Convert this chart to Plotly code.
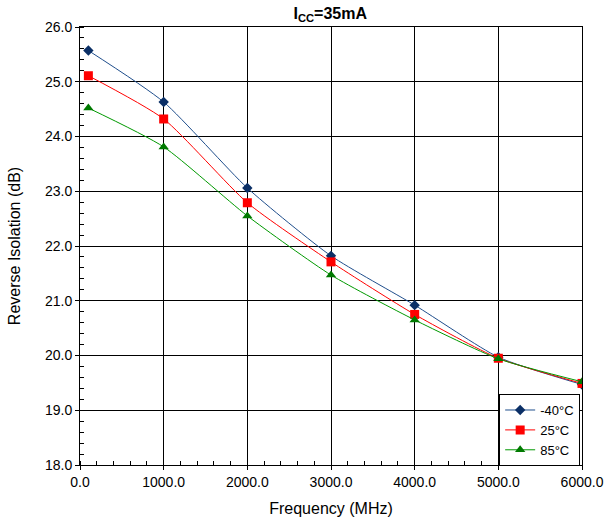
import plotly.graph_objects as go

freq = [100, 1000, 2000, 3000, 4000, 5000, 6000]
iso_m40 = [25.57, 24.63, 23.06, 21.82, 20.92, 19.97, 19.47]
iso_25 = [25.11, 24.32, 22.79, 21.71, 20.75, 19.95, 19.49]
iso_85 = [24.52, 23.81, 22.55, 21.47, 20.65, 19.94, 19.52]

series = [
    ("-40°C", iso_m40, "#1F4E8C", "#0B2F66", "diamond", 8),
    ("25°C", iso_25, "#FF0000", "#FF0000", "square", 9),
    ("85°C", iso_85, "#009900", "#007A00", "triangle-up", 9),
]

fig = go.Figure()
for name, vals, lc, mc, sym, sz in series:
    fig.add_trace(go.Scatter(
        x=freq, y=vals, name=name, mode="lines+markers",
        line=dict(color=lc, width=1, shape="spline", smoothing=0.6),
        marker=dict(symbol=sym, size=sz, color=mc),
    ))

font = "Liberation Sans, Arial, sans-serif"
axis_common = dict(
    showline=True, linecolor="black", linewidth=1, mirror=True,
    gridcolor="black", gridwidth=1, zeroline=False, automargin=False,
    ticks="outside", ticklen=4, tickcolor="black",
    tickformat=".1f", tickfont=dict(family=font, size=14, color="black"),
)

fig.update_layout(
    width=606, height=524,
    margin=dict(l=80, r=24, t=27, b=59, autoexpand=False),
    paper_bgcolor="white", plot_bgcolor="white",
    title=dict(text="<b>I<sub>CC</sub>=35mA</b>", x=0.545, xanchor="center",
               y=0.975, yanchor="middle",
               font=dict(family=font, size=16, color="black")),
    xaxis=dict(range=[0, 6000], dtick=1000,
               title=dict(text="Frequency (MHz)", font=dict(family=font, size=16, color="black"), standoff=14),
               minor=dict(dtick=200, ticks="inside", ticklen=4, tickcolor="black", showgrid=False),
               **axis_common),
    yaxis=dict(range=[18, 26], dtick=1,
               title=dict(text="Reverse Isolation (dB)", font=dict(family=font, size=16, color="black"), standoff=20),
               minor=dict(dtick=0.2, ticks="inside", ticklen=4, tickcolor="black", showgrid=False),
               **axis_common),
    legend=dict(x=0.835, y=0.162, xanchor="left", yanchor="top",
                bgcolor="white", bordercolor="black", borderwidth=1,
                font=dict(family=font, size=13, color="black"),
                tracegroupgap=0, itemwidth=30),
    showlegend=True,
)

fig.write_html("out.html")
